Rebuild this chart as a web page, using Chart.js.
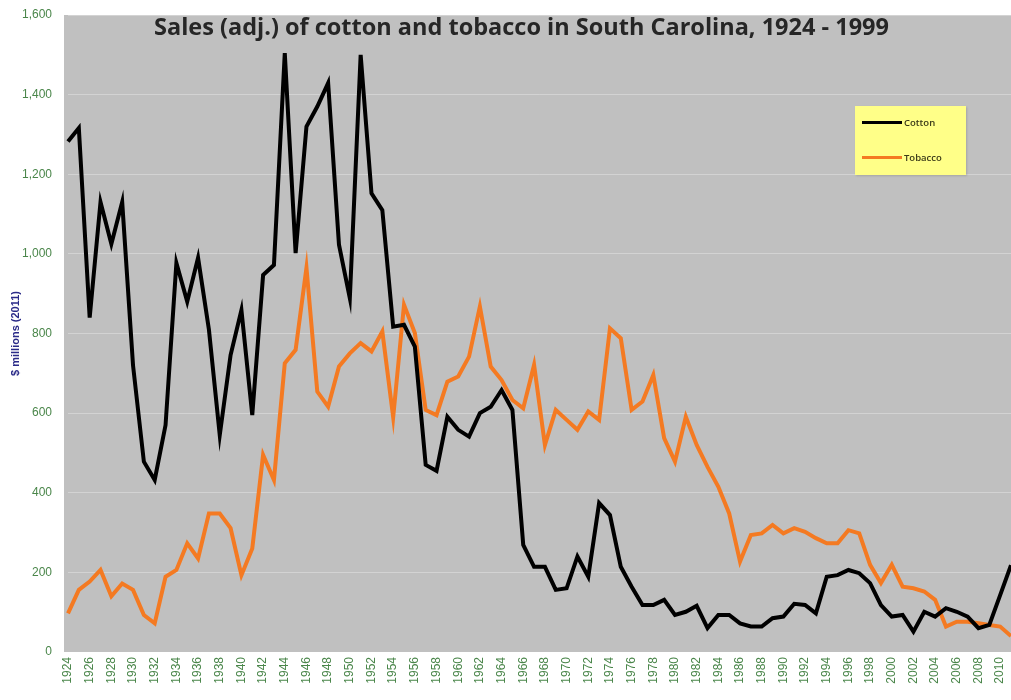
<!DOCTYPE html>
<html lang="en">
<head>
  <meta charset="UTF-8" />
  <title>Cotton and Tobacco Sales, South Carolina</title>
  <script src="https://cdn.jsdelivr.net/npm/chart.js"></script>
  <style>
    body {
      margin: 0;
      background: #fff;
      font-family: "Open Sans", sans-serif;
    }
    .wrap {
      position: relative;
      width: 1011px;
      height: 700px;
    }
    .title {
      position: absolute;
      left: 154px;
      top: 15px;
      font-size: 23.5px;
      line-height: 23px;
      font-weight: bold;
      color: #262626;
      white-space: nowrap;
    }
    .legend {
      position: absolute;
      left: 855px;
      top: 106px;
      width: 111px;
      height: 69px;
      background: #ffff88;
      box-shadow: 1px 1px 2px rgba(0,0,0,0.15);
      font-size: 9.5px;
      font-weight: 600;
      color: #3a3a18;
    }
    .legend div {
      position: absolute;
      left: 7px;
      display: flex;
      align-items: center;
    }
    .legend span.line {
      display: inline-block;
      width: 40px;
      height: 3px;
      margin-right: 2px;
    }
  </style>
</head>
<body>
  <div class="wrap">
    <canvas id="salesChart"></canvas>
    <div class="title">Sales (adj.) of cotton and tobacco in South Carolina, 1924 - 1999</div>
    <div class="legend">
      <div style="top:10px"><span class="line" style="background:#000"></span>Cotton</div>
      <div style="top:45px"><span class="line" style="background:#f47a22"></span>Tobacco</div>
    </div>
  </div>

  <script>
    const years = [
      1924, 1925, 1926, 1927, 1928, 1929, 1930, 1931, 1932, 1933,
      1934, 1935, 1936, 1937, 1938, 1939, 1940, 1941, 1942, 1943,
      1944, 1945, 1946, 1947, 1948, 1949, 1950, 1951, 1952, 1953,
      1954, 1955, 1956, 1957, 1958, 1959, 1960, 1961, 1962, 1963,
      1964, 1965, 1966, 1967, 1968, 1969, 1970, 1971, 1972, 1973,
      1974, 1975, 1976, 1977, 1978, 1979, 1980, 1981, 1982, 1983,
      1984, 1985, 1986, 1987, 1988, 1989, 1990, 1991, 1992, 1993,
      1994, 1995, 1996, 1997, 1998, 1999, 2000, 2001, 2002, 2003,
      2004, 2005, 2006, 2007, 2008, 2009, 2010, 2011
    ];

    // $ millions (2011)
    const cotton = [
      1282, 1316, 840, 1130, 1025, 1130, 720, 478, 432, 570,
      977, 880, 990, 810, 545, 746, 859, 595, 947, 972,
      1504, 1002, 1320, 1370, 1429, 1023, 889, 1500, 1152, 1110,
      817, 822, 767, 470, 455, 591, 558, 541, 600, 616,
      658, 608, 269, 214, 214, 156, 160, 240, 189, 374,
      344, 214, 164, 118, 118, 131, 93, 101, 116, 60,
      93, 93, 72, 64, 64, 85, 89, 121, 118, 97,
      189, 193, 206, 198, 173, 118, 89, 93, 51, 101,
      89, 110, 101, 89, 60, 68, 143, 218
    ];

    const tobacco = [
      97, 156, 177, 206, 140, 172, 156, 93, 72, 189,
      206, 273, 235, 348, 348, 311, 193, 260, 495, 432,
      725, 759, 965, 654, 616, 717, 750, 776, 755, 805,
      590, 872, 801, 608, 595, 679, 692, 742, 868, 717,
      683, 633, 612, 721, 520, 608, 583, 558, 604, 583,
      813, 788, 608, 629, 696, 537, 478, 591, 520, 465,
      415, 348, 227, 294, 298, 319, 298, 311, 302, 286,
      273, 273, 306, 298, 219, 173, 219, 164, 160, 152,
      131, 64, 76, 76, 72, 68, 64, 40
    ];

    const plotBackground = {
      id: "plotBackground",
      beforeDraw(chart) {
        const a = chart.chartArea;
        const ctx = chart.ctx;
        ctx.save();
        ctx.fillStyle = "#c0c0c0";
        ctx.fillRect(a.left - 4, a.top, a.right - a.left + 4, a.bottom - a.top);
        ctx.restore();
      }
    };

    const ctx = document.getElementById("salesChart").getContext("2d");
    new Chart(ctx, {
      type: "line",
      data: {
        labels: years,
        datasets: [
          {
            label: "Cotton",
            data: cotton,
            borderColor: "#000",
            borderWidth: 4,
            pointRadius: 0,
            tension: 0
          },
          {
            label: "Tobacco",
            data: tobacco,
            borderColor: "#f47a22",
            borderWidth: 4,
            pointRadius: 0,
            tension: 0
          }
        ]
      },
      options: {
        responsive: true,
        maintainAspectRatio: false,
        animation: false,
        layout: { padding: { top: 15, right: 0, bottom: 0, left: 0 } },
        plugins: {
          legend: { display: false },
          tooltip: { enabled: false }
        },
        scales: {
          x: {
            offset: false,
            grid: { display: false, drawTicks: false },
            border: { display: false },
            ticks: {
              autoSkip: false,
              maxRotation: 90,
              minRotation: 90,
              padding: 5,
              color: "#4a864a",
              font: { size: 12, family: "Liberation Sans" },
              callback: function (value, index) {
                const y = years[index];
                return y % 2 === 0 ? String(y) : "";
              }
            },
            afterFit(scale) {
              scale.height = 48;
              scale.paddingLeft = 0;
              scale.paddingRight = 0;
            }
          },
          y: {
            min: 0,
            max: 1600,
            grid: { color: "rgba(255,255,255,0.3)", drawTicks: false },
            border: { display: false },
            ticks: {
              stepSize: 200,
              padding: 16,
              color: "#4a864a",
              font: { size: 12, family: "Liberation Sans" },
              callback: v => v.toLocaleString("en-US")
            },
            title: {
              display: true,
              text: "$ millions (2011)",
              color: "#2a2a88",
              font: { size: 11, weight: "bold", family: "Liberation Sans" },
              padding: { top: 9, bottom: 0 }
            },
            afterFit(scale) {
              scale.width = 68;
              scale.paddingTop = 0;
              scale.paddingBottom = 0;
            }
          }
        }
      },
      plugins: [plotBackground]
    });
  </script>
</body>
</html>
